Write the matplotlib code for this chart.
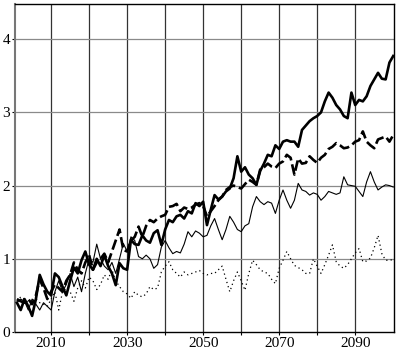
import numpy as np
import matplotlib
matplotlib.use("Agg")
import matplotlib.pyplot as plt

# yearly series, 2001..2100
years = np.arange(2001, 2101)

thick_solid = [
    0.40, 0.30, 0.45, 0.35, 0.22, 0.45, 0.78, 0.65, 0.55, 0.50,
    0.80, 0.75, 0.62, 0.50, 0.70, 0.88, 0.80, 0.98, 1.10, 0.92,
    0.85, 1.00, 0.90, 1.05, 0.90, 0.80, 0.64, 0.94, 0.87, 0.85,
    1.26, 1.20, 1.19, 1.32, 1.25, 1.22, 1.35, 1.39, 1.19, 1.40,
    1.53, 1.50, 1.58, 1.60, 1.55, 1.65, 1.62, 1.76, 1.72, 1.78,
    1.46, 1.67, 1.87, 1.81, 1.85, 1.92, 1.96, 2.10, 2.40, 2.19,
    2.25, 2.15, 2.10, 2.01, 2.20, 2.30, 2.42, 2.40, 2.55, 2.50,
    2.60, 2.62, 2.60, 2.60, 2.53, 2.76, 2.82, 2.88, 2.92, 2.95,
    3.00, 3.15, 3.27, 3.20, 3.10, 3.04, 2.95, 2.92, 3.27, 3.10,
    3.17, 3.15, 3.22, 3.36, 3.45, 3.54, 3.46, 3.45, 3.68, 3.77,
]

thick_dashed = [
    0.45, 0.42, 0.40, 0.45, 0.38, 0.50, 0.72, 0.60, 0.45, 0.55,
    0.65, 0.60, 0.55, 0.70, 0.78, 0.95, 0.85, 0.80, 0.95, 1.05,
    0.85, 0.95, 1.00, 1.07, 0.95, 1.10, 1.25, 1.40, 1.12, 1.10,
    1.25, 1.30, 1.44, 1.30, 1.45, 1.53, 1.50, 1.55, 1.58, 1.60,
    1.71, 1.72, 1.75, 1.65, 1.70, 1.68, 1.70, 1.74, 1.76, 1.72,
    1.58, 1.65, 1.72, 1.80, 1.85, 1.94, 1.98, 2.00, 1.98, 1.96,
    2.02, 2.08, 2.05, 2.01, 2.22, 2.25, 2.30, 2.26, 2.24, 2.30,
    2.33, 2.42, 2.38, 2.15, 2.37, 2.30, 2.31, 2.40, 2.35, 2.31,
    2.38, 2.42, 2.50, 2.53, 2.58, 2.55, 2.51, 2.52, 2.55, 2.60,
    2.62, 2.74, 2.60, 2.55, 2.51, 2.63, 2.65, 2.67, 2.60, 2.69,
]

thin_solid = [
    0.40, 0.45, 0.42, 0.30, 0.45, 0.38, 0.30, 0.40, 0.35, 0.30,
    0.55, 0.70, 0.55, 0.65, 0.80, 0.62, 0.75, 0.55, 0.80, 1.00,
    0.95, 1.20, 1.00, 0.90, 0.85, 0.95, 0.80, 1.00, 1.21, 1.10,
    1.30, 1.25, 1.03, 1.00, 1.05, 1.00, 0.87, 0.92, 1.16, 1.25,
    1.15, 1.07, 1.10, 1.08, 1.20, 1.37, 1.30, 1.38, 1.35, 1.30,
    1.32, 1.45, 1.55, 1.40, 1.26, 1.40, 1.58, 1.50, 1.40, 1.37,
    1.45, 1.48, 1.71, 1.85, 1.78, 1.74, 1.78, 1.76, 1.62, 1.80,
    1.94, 1.80, 1.69, 1.80, 2.03, 1.94, 1.92, 1.87, 1.90, 1.88,
    1.80, 1.85, 1.92, 1.90, 1.88, 1.90, 2.12, 2.01, 2.00, 1.99,
    1.92, 1.85, 2.05, 2.19, 2.05, 1.94, 1.98, 2.01, 2.00, 1.98,
]

dotted = [
    0.42, 0.48, 0.45, 0.40, 0.38, 0.45, 0.40, 0.38, 0.35, 0.45,
    0.55, 0.30, 0.55, 0.60, 0.55, 0.42, 0.60, 0.70, 0.60, 0.75,
    0.70, 0.58, 0.65, 0.78, 0.72, 0.85, 0.70, 0.62, 0.55, 0.52,
    0.46, 0.55, 0.50, 0.48, 0.52, 0.62, 0.58, 0.60, 0.82, 0.90,
    0.96, 0.85, 0.80, 0.75, 0.82, 0.78, 0.80, 0.82, 0.84, 0.80,
    0.78, 0.80, 0.80, 0.85, 0.90, 0.72, 0.55, 0.70, 0.82, 0.70,
    0.57, 0.80, 0.98, 0.92, 0.85, 0.82, 0.80, 0.72, 0.66, 0.87,
    0.98, 1.10, 1.00, 0.91, 0.88, 0.85, 0.80, 0.80, 1.00, 0.90,
    0.80, 0.92, 1.05, 1.19, 0.96, 0.90, 0.87, 0.92, 1.00, 1.08,
    1.14, 0.96, 0.97, 1.01, 1.15, 1.32, 1.07, 0.98, 0.98, 0.99,
]

x_ticks = np.arange(2010, 2100, 10)
x_labels = ["2010", "", "2030", "", "2050", "", "2070", "", "2090"]
y_ticks = [0, 1, 2, 3, 4]

plt.rcParams['font.family'] = ['Liberation Serif', 'DejaVu Serif']

fig = plt.figure(figsize=(4, 3.6), dpi=100)
ax = fig.add_axes([15 / 400, 1 - 332 / 360, 379 / 400, 328 / 360])

# grid: dark verticals, grey horizontals
for xv in x_ticks:
    ax.axvline(xv, color='#333333', lw=0.9, zorder=1)
for yv in y_ticks[1:]:
    ax.axhline(yv, color='#8a8a8a', lw=0.9, zorder=1)

ax.plot(years, dotted, color='black', lw=0.9, linestyle=(0, (1, 2.5)), zorder=3)
ax.plot(years, thin_solid, color='black', lw=0.8, zorder=3)
ax.plot(years, thick_dashed, color='black', lw=1.9, linestyle=(0, (4, 1.5)), zorder=4)
ax.plot(years, thick_solid, color='black', lw=1.9, zorder=5)

ax.set_xlim(2000.5, 2100.2)
ax.set_ylim(0, 4.48)
ax.set_xticks(x_ticks)
ax.set_xticklabels(x_labels)
ax.set_yticks(y_ticks)
ax.tick_params(axis='both', direction='out', length=2.5, width=0.8, labelsize=11, pad=1)

for side in ['top', 'right', 'bottom']:
    ax.spines[side].set_color('black')
    ax.spines[side].set_linewidth(1.0)
ax.spines['left'].set_color('#777777')
ax.spines['left'].set_linewidth(1.5)

fig.savefig('out.png', dpi=100)
